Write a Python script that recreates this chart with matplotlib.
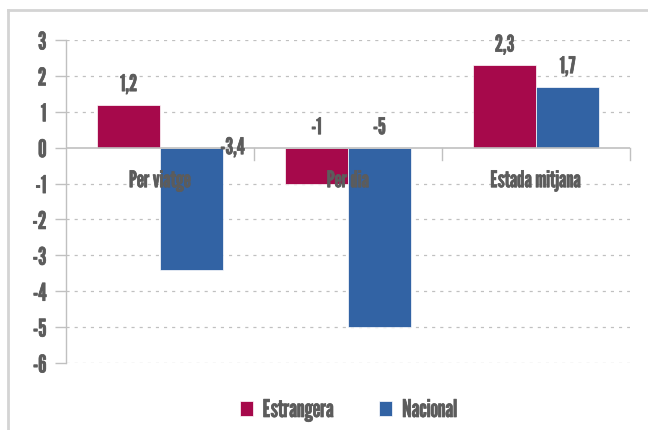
import matplotlib
matplotlib.use("Agg")
import matplotlib.pyplot as plt
from matplotlib.lines import Line2D
import matplotlib.patheffects as pe
import numpy as np

categories = ["Per viatge", "Per dia", "Estada mitjana"]
series_names = ["Estrangera", "Nacional"]
estrangera = [1.2, -1.0, 2.3]
nacional = [-3.4, -5.0, 1.7]
value_labels = [["1,2", "-1", "2,3"], ["-3,4", "-5", "1,7"]]
yticks = [3, 2, 1, 0, -1, -2, -3, -4, -5, -6]

colors = ["#A6094B", "#3263A4"]
text_color = "#5c5c5c"
grid_color = "#c0c0c0"
font = ["League Gothic", "DejaVu Sans"]
plt.rcParams["font.family"] = font
bold = [pe.withStroke(linewidth=0.5, foreground=text_color)]

fig = plt.figure(figsize=(6.48, 4.30), dpi=100)
# outer frame lines
fig.add_artist(Line2D([8/648, 8/648], [0, 1 - 10/430], transform=fig.transFigure, color="#d4d4d4", lw=2))
fig.add_artist(Line2D([8/648, 1], [1 - 10/430, 1 - 10/430], transform=fig.transFigure, color="#d4d4d4", lw=2))

ax = fig.add_axes([66/648, 1 - 363/430, 564/648, 323/430])
x = np.arange(len(categories))
w = 0.335
b1 = ax.bar(x - w/2, estrangera, w, color=colors[0], label=series_names[0], zorder=3,
            edgecolor="white", linewidth=0.5)
b2 = ax.bar(x + w/2, nacional, w, color=colors[1], label=series_names[1], zorder=3,
            edgecolor="white", linewidth=0.5)

ax.set_xlim(-0.5, 2.5)
ax.set_ylim(-6, 3)
ax.set_yticks(yticks)
ax.set_yticklabels([str(t) for t in yticks])
ax.set_xticks([])
for s in ["top", "right", "bottom"]:
    ax.spines[s].set_visible(False)
ax.spines["left"].set_color(grid_color)
ax.spines["left"].set_linewidth(1)
ax.tick_params(axis="y", length=8, color=grid_color, width=1, pad=6,
               labelsize=17.5, labelcolor=text_color)
for lab in ax.get_yticklabels():
    lab.set_path_effects(bold)

for t in yticks:
    if t != 0:
        ax.axhline(t, color=grid_color, lw=0.9, ls=(0, (2.5, 4)), zorder=1)
ax.axhline(0, color=grid_color, lw=1.2, zorder=4)
# category separators on zero line
for sep in [0.5, 1.5, 2.5]:
    ax.plot([sep, sep], [0, -0.33], color=grid_color, lw=1, zorder=4, clip_on=False)

# value labels
special = {(1, 0): (41, 0)}  # pixel offsets for label of Nacional / Per viatge
for si, vals in enumerate([estrangera, nacional]):
    for ci, v in enumerate(vals):
        xc = x[ci] + (-w/2 if si == 0 else w/2)
        dx, dy = special.get((si, ci), (0, 20))
        ax.annotate(value_labels[si][ci], (xc, max(v, 0)), xytext=(dx * 0.72, dy * 0.72),
                    textcoords="offset points", ha="center", va="center",
                    fontsize=16.5, color=text_color, zorder=6, path_effects=bold)

for ci, c in enumerate(categories):
    ax.text(x[ci], -0.92, c, ha="center", va="center", fontsize=16.5,
            color=text_color, zorder=6, path_effects=bold)

leg = fig.legend(handles=[b1, b2], labels=series_names, loc="center",
                 bbox_to_anchor=(348.5/648, 1 - 410/430), ncol=2, frameon=False,
                 handlelength=0.55, handleheight=0.55, columnspacing=1.85,
                 handletextpad=0.4, prop={"family": font, "size": 17.5})
for t in leg.get_texts():
    t.set_color(text_color)
    t.set_path_effects(bold)

fig.savefig("out.png", dpi=100)
